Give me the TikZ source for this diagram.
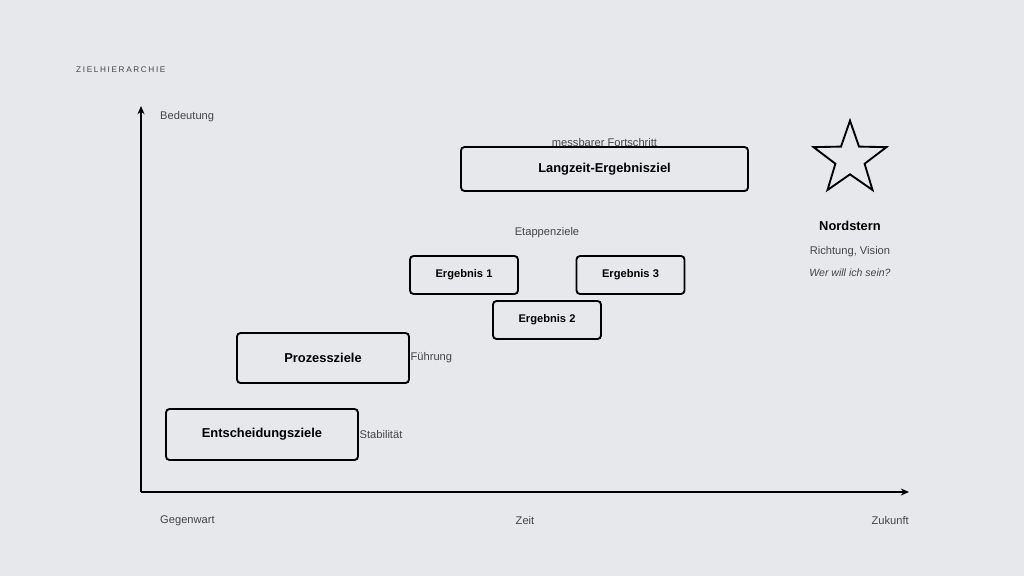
\documentclass[tikz,border=0pt]{standalone}
\usepackage{fontspec}
\setmainfont{Liberation Sans}
\usetikzlibrary{positioning, shapes.geometric, arrows.meta}
\definecolor{bgc}{HTML}{E6E8EB}
\definecolor{txt}{HTML}{444444}
\tikzset{%
	goal/.style={draw, thick, line width=1.6pt, rectangle, rounded corners=3pt, fill=bgc, font=\bfseries, text=black},
	lbl/.style={font=\fontsize{9.5}{11}\selectfont, text=txt, inner sep=0pt},
	axis/.style={line width=1.4pt, -{Stealth[length=7pt,width=6pt]}}
}
\begin{document}
\begin{tikzpicture}[x=0.03cm, y=-0.03cm]
	\fill[bgc] (0,0) rectangle (1024,576);
	\node[lbl, anchor=west, font=\fontsize{7}{8}\selectfont\addfontfeature{LetterSpace=20}] (title) at (76,70) {ZIELHIERARCHIE};

	% axes
	\coordinate (origin) at (141,492);
	\coordinate (ytop) at (141,106);
	\coordinate (xend) at (909,492);
	\draw[axis] (origin) -- (ytop);
	\draw[axis] (origin) -- (xend);
	\node[lbl, anchor=west] (bed) at (160,117) {Bedeutung};
	\node[lbl, anchor=west] (gw) at (160,521) {Gegenwart};
	\node[lbl] (zeit) at (525,521) {Zeit};
	\node[lbl, anchor=east] (zk) at (909,521) {Zukunft};

	% goals
	\node[goal, minimum width=8.61cm, minimum height=1.32cm, font=\fontsize{11}{13}\selectfont\bfseries] (lz) at (604.5,169) {Langzeit-Ergebnisziel};
	\node[lbl, above=0.55 of lz] (mf) {messbarer Fortschritt};
	\node[lbl] (etap) at (547,233) {Etappenziele};
	\node[goal, minimum width=3.24cm, minimum height=1.14cm, font=\fontsize{9.5}{11}\selectfont\bfseries] (e1) at (464,275) {Ergebnis 1};
	\node[goal, minimum width=3.24cm, minimum height=1.14cm, font=\fontsize{9.5}{11}\selectfont\bfseries] (e3) at (630.5,275) {Ergebnis 3};
	\node[goal, minimum width=3.24cm, minimum height=1.14cm, font=\fontsize{9.5}{11}\selectfont\bfseries] (e2) at (547,320) {Ergebnis 2};
	\node[goal, minimum width=5.16cm, minimum height=1.5cm, font=\fontsize{11}{13}\selectfont\bfseries] (pz) at (323,358) {Prozessziele};
	\node[lbl, right=0.5 of pz] (fu) {Führung};
	\node[goal, minimum width=5.76cm, minimum height=1.53cm, font=\fontsize{11}{13}\selectfont\bfseries] (ez) at (262,434.5) {Entscheidungsziele};
	\node[lbl, right=0.5 of ez] (st) {Stabilität};

	% north star
	\node[star, star points=5, star point ratio=2.5, draw, line width=1.6pt, minimum size=2.3cm, inner sep=0pt] (ns) at (850,159) {};
	\node[font=\fontsize{11}{13}\selectfont\bfseries, inner sep=0pt] (nst) at (850,226) {Nordstern};
	\node[lbl] (rv) at (850,252) {Richtung, Vision};
	\node[lbl, font=\fontsize{9}{11}\selectfont\itshape] (wer) at (850,273) {Wer will ich sein?};
\end{tikzpicture}
\end{document}
